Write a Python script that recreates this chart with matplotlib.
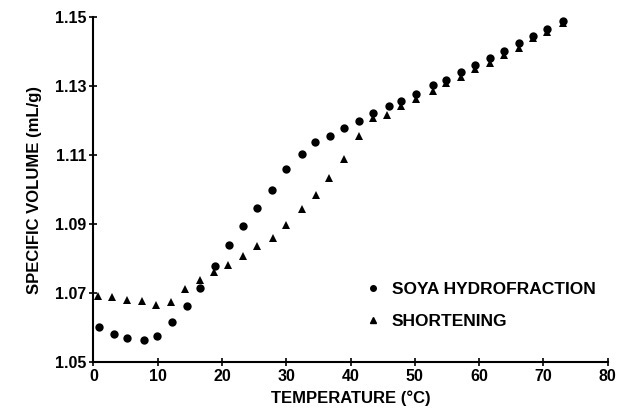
import matplotlib.pyplot as plt
from matplotlib.lines import Line2D

plt.rcParams['font.family'] = ['Liberation Sans', 'DejaVu Sans']
plt.rcParams['font.weight'] = 'bold'

# soya hydrofraction (circles)
soya_t = [0.8, 3.2, 5.3, 7.8, 9.9, 12.2, 14.5, 16.6, 18.9, 21.1, 23.2, 25.5, 27.7,
          30.0, 32.4, 34.5, 36.8, 39.0, 41.3, 43.5, 45.9, 47.9, 50.2, 52.8, 54.9,
          57.1, 59.3, 61.7, 63.9, 66.2, 68.4, 70.6, 73.0]
soya_v = [1.0602, 1.0582, 1.0570, 1.0563, 1.0576, 1.0615, 1.0661, 1.0715, 1.0777,
          1.0838, 1.0894, 1.0946, 1.0999, 1.1060, 1.1104, 1.1137, 1.1156, 1.1177,
          1.1199, 1.1222, 1.1242, 1.1257, 1.1278, 1.1303, 1.1317, 1.1341, 1.1361,
          1.1380, 1.1402, 1.1424, 1.1446, 1.1465, 1.1489]

# shortening (triangles)
short_t = [0.7, 2.9, 5.2, 7.6, 9.8, 12.1, 14.2, 16.6, 18.8, 21.0, 23.2, 25.5, 27.9,
           30.0, 32.4, 34.6, 36.7, 39.0, 41.3, 43.5, 45.7, 47.9, 50.2, 52.8, 54.9,
           57.1, 59.3, 61.7, 63.9, 66.2, 68.4, 70.6, 73.0]
short_v = [1.0691, 1.0689, 1.0681, 1.0677, 1.0665, 1.0674, 1.0712, 1.0738, 1.0762,
           1.0781, 1.0808, 1.0836, 1.0860, 1.0897, 1.0943, 1.0985, 1.1034, 1.1088,
           1.1156, 1.1206, 1.1216, 1.1242, 1.1261, 1.1286, 1.1308, 1.1327, 1.1348,
           1.1367, 1.1390, 1.1409, 1.1439, 1.1458, 1.1484]

xticks = [0, 10, 20, 30, 40, 50, 60, 70, 80]
yticks = [1.05, 1.07, 1.09, 1.11, 1.13, 1.15]

fig = plt.figure(figsize=(6.21, 4.09), dpi=100)
ax = fig.add_axes([0.1504, 0.1149, 0.8283, 0.8435])

ax.plot(short_t, short_v, '^', color='black', markersize=5.2, markeredgewidth=0)
ax.plot(soya_t, soya_v, 'o', color='black', markersize=6, markeredgewidth=0)

ax.set_xlim(0, 80)
ax.set_ylim(1.05, 1.15)
ax.set_xticks(xticks)
ax.set_yticks(yticks)
ax.set_xticklabels([str(t) for t in xticks])
ax.set_yticklabels(['%.2f' % v for v in yticks])

for s in ['top', 'right']:
    ax.spines[s].set_visible(False)
for s in ['left', 'bottom']:
    ax.spines[s].set_linewidth(1.5)
ax.tick_params(direction='inout', length=6, width=1.2, labelsize=11.5, pad=2)

ax.set_xlabel('TEMPERATURE (°C)', fontsize=12, fontweight='bold', labelpad=5)
ax.set_ylabel('SPECIFIC VOLUME (mL/g)', fontsize=12, fontweight='bold', labelpad=9)

handles = [Line2D([], [], ls='none', marker='o', color='black', markersize=4),
           Line2D([], [], ls='none', marker='^', color='black', markersize=4)]
ax.legend(handles, ['SOYA HYDROFRACTION', 'SHORTENING'], loc='upper left',
          bbox_to_anchor=(0.496, 0.278), frameon=False, fontsize=12.5,
          handletextpad=0.6, labelspacing=1.0, handlelength=1.0)

fig.savefig('out.png', dpi=100)
